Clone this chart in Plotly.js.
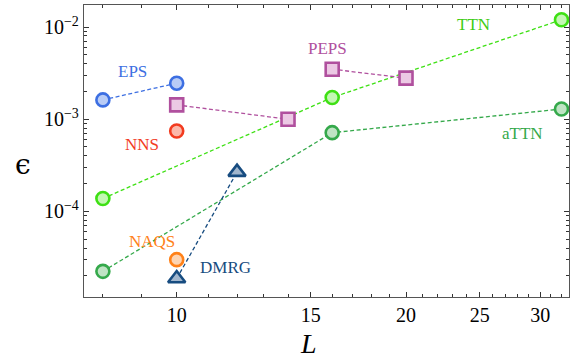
<!DOCTYPE html>
<html>
<head>
<meta charset="utf-8">
<script src="https://cdn.plot.ly/plotly-3.0.1.min.js"></script>
<style>html,body{margin:0;padding:0;background:#fff;}#chart{width:579px;height:358px;}</style>
</head>
<body>
<div id="chart"></div>
<script>
// ---- data ----
const L_EPS = [8, 10];
const eps_EPS = [1.62e-3, 2.46e-3];
const L_PEPS_a = [10, 14];
const eps_PEPS_a = [1.43e-3, 1.0e-3];
const L_PEPS_b = [16, 20];
const eps_PEPS_b = [3.49e-3, 2.79e-3];
const L_NNS = [10];
const eps_NNS = [7.46e-4];
const L_TTN = [8, 16, 32];
const eps_TTN = [1.38e-4, 1.72e-3, 1.2e-2];
const L_aTTN = [8, 16, 32];
const eps_aTTN = [2.24e-5, 7.15e-4, 1.29e-3];
const L_NAQS = [10];
const eps_NAQS = [3.0e-5];
const L_DMRG = [10, 12];
const eps_DMRG = [1.87e-5, 2.67e-4];

const xTickVals = [10, 15, 20, 25, 30];
const xTickText = ['10', '15', '20', '25', '30'];
const yTickVals = [1e-4, 1e-3, 1e-2];
const yTickText = ['10<sup>−4</sup>', '10<sup>−3</sup>', '10<sup>−2</sup>'];

// minor tick positions
const xMinor = [];
for (let v = 8; v <= 32; v++) if (!xTickVals.includes(v)) xMinor.push(v);
const yMinor = [];
for (let e = -5; e <= -2; e++) for (let k = 2; k <= 9; k++) yMinor.push(k * Math.pow(10, e));

const FONT = 'Liberation Serif';

function tr(x, y, color, fill, symbol, size, showLine) {
  return {
    x: x, y: y, type: 'scatter',
    mode: showLine ? 'lines+markers' : 'markers',
    line: {color: color, width: 1.3, dash: '4px,2.5px'},
    marker: {symbol: symbol, size: size, color: fill, line: {color: color, width: 2.6}},
    showlegend: false, hoverinfo: 'skip'
  };
}

const data = [
  tr(L_TTN, eps_TTN, '#3ee014', '#c4f7b4', 'circle', 13, true),
  tr(L_aTTN, eps_aTTN, '#35a94b', '#bfe4c4', 'circle', 13, true),
  tr(L_PEPS_a, eps_PEPS_a, '#b0509e', '#ecc9e4', 'square', 13, true),
  tr(L_PEPS_b, eps_PEPS_b, '#b0509e', '#ecc9e4', 'square', 13, true),
  tr(L_EPS, eps_EPS, '#3d6fe2', '#b9ccf6', 'circle', 13, true),
  tr(L_NNS, eps_NNS, '#f23b1f', '#fbb8aa', 'circle', 13, false),
  tr(L_NAQS, eps_NAQS, '#ff8118', '#fdd4b2', 'circle', 13, false),
  tr(L_DMRG, eps_DMRG, '#174c80', '#a1b6cd', 'triangle-up', 15, true)
];

function lab(text, lx, ly, color) {
  return {text: text, x: lx, y: ly, xref: 'x', yref: 'y', showarrow: false,
    font: {family: FONT, size: 17, color: color}, xanchor: 'center', yanchor: 'middle'};
}

const layout = {
  width: 579, height: 358,
  margin: {l: 84, r: 10, t: 5, b: 61},
  paper_bgcolor: '#fff', plot_bgcolor: '#fff',
  font: {family: FONT, size: 19, color: '#000'},
  xaxis: {
    type: 'log', range: [0.8783, 1.515],
    tickmode: 'array', tickvals: xTickVals, ticktext: xTickText,
    ticks: 'inside', ticklen: 5, tickwidth: 1, tickcolor: '#333',
    showline: true, linecolor: '#555', linewidth: 1.2, mirror: 'allticks',
    showgrid: false, zeroline: false,
    tickfont: {family: FONT, size: 20, color: '#000'},
    minor: {tickmode: 'array', tickvals: xMinor, ticks: 'inside', ticklen: 3, tickwidth: 1, tickcolor: '#333', showgrid: false}
  },
  yaxis: {
    type: 'log', range: [-4.928, -1.761],
    tickmode: 'array', tickvals: yTickVals, ticktext: yTickText,
    ticks: 'inside', ticklen: 5, tickwidth: 1, tickcolor: '#333',
    showline: true, linecolor: '#555', linewidth: 1.2, mirror: 'allticks',
    showgrid: false, zeroline: false,
    tickfont: {family: FONT, size: 20, color: '#000'},
    minor: {tickmode: 'array', tickvals: yMinor, ticks: 'inside', ticklen: 3, tickwidth: 1, tickcolor: '#333', showgrid: false}
  },
  annotations: [
    lab('EPS', 0.9417, -2.483, '#3d6fe2'),
    lab('NNS', 0.9548, -3.279, '#f23b1f'),
    lab('PEPS', 1.1977, -2.236, '#b0509e'),
    lab('TTN', 1.3894, -1.975, '#3ecc14'),
    lab('aTTN', 1.4537, -3.160, '#35a94b'),
    lab('NAQS', 0.968, -4.330, '#ff8118'),
    lab('DMRG', 1.0634, -4.609, '#174c80'),
    {text: '<i>L</i>', xref: 'paper', yref: 'paper', x: 0.462, y: 0, yshift: -46,
     showarrow: false, xanchor: 'center', yanchor: 'middle', font: {family: FONT, size: 28, color: '#000'}},
    {text: 'ϵ', xref: 'paper', yref: 'paper', x: -0.126, y: 0.453,
     showarrow: false, xanchor: 'center', yanchor: 'middle', font: {family: 'DejaVu Serif', size: 28, color: '#000'}}
  ]
};

Plotly.newPlot('chart', data, layout, {displayModeBar: false, staticPlot: true});
</script>
</body>
</html>
